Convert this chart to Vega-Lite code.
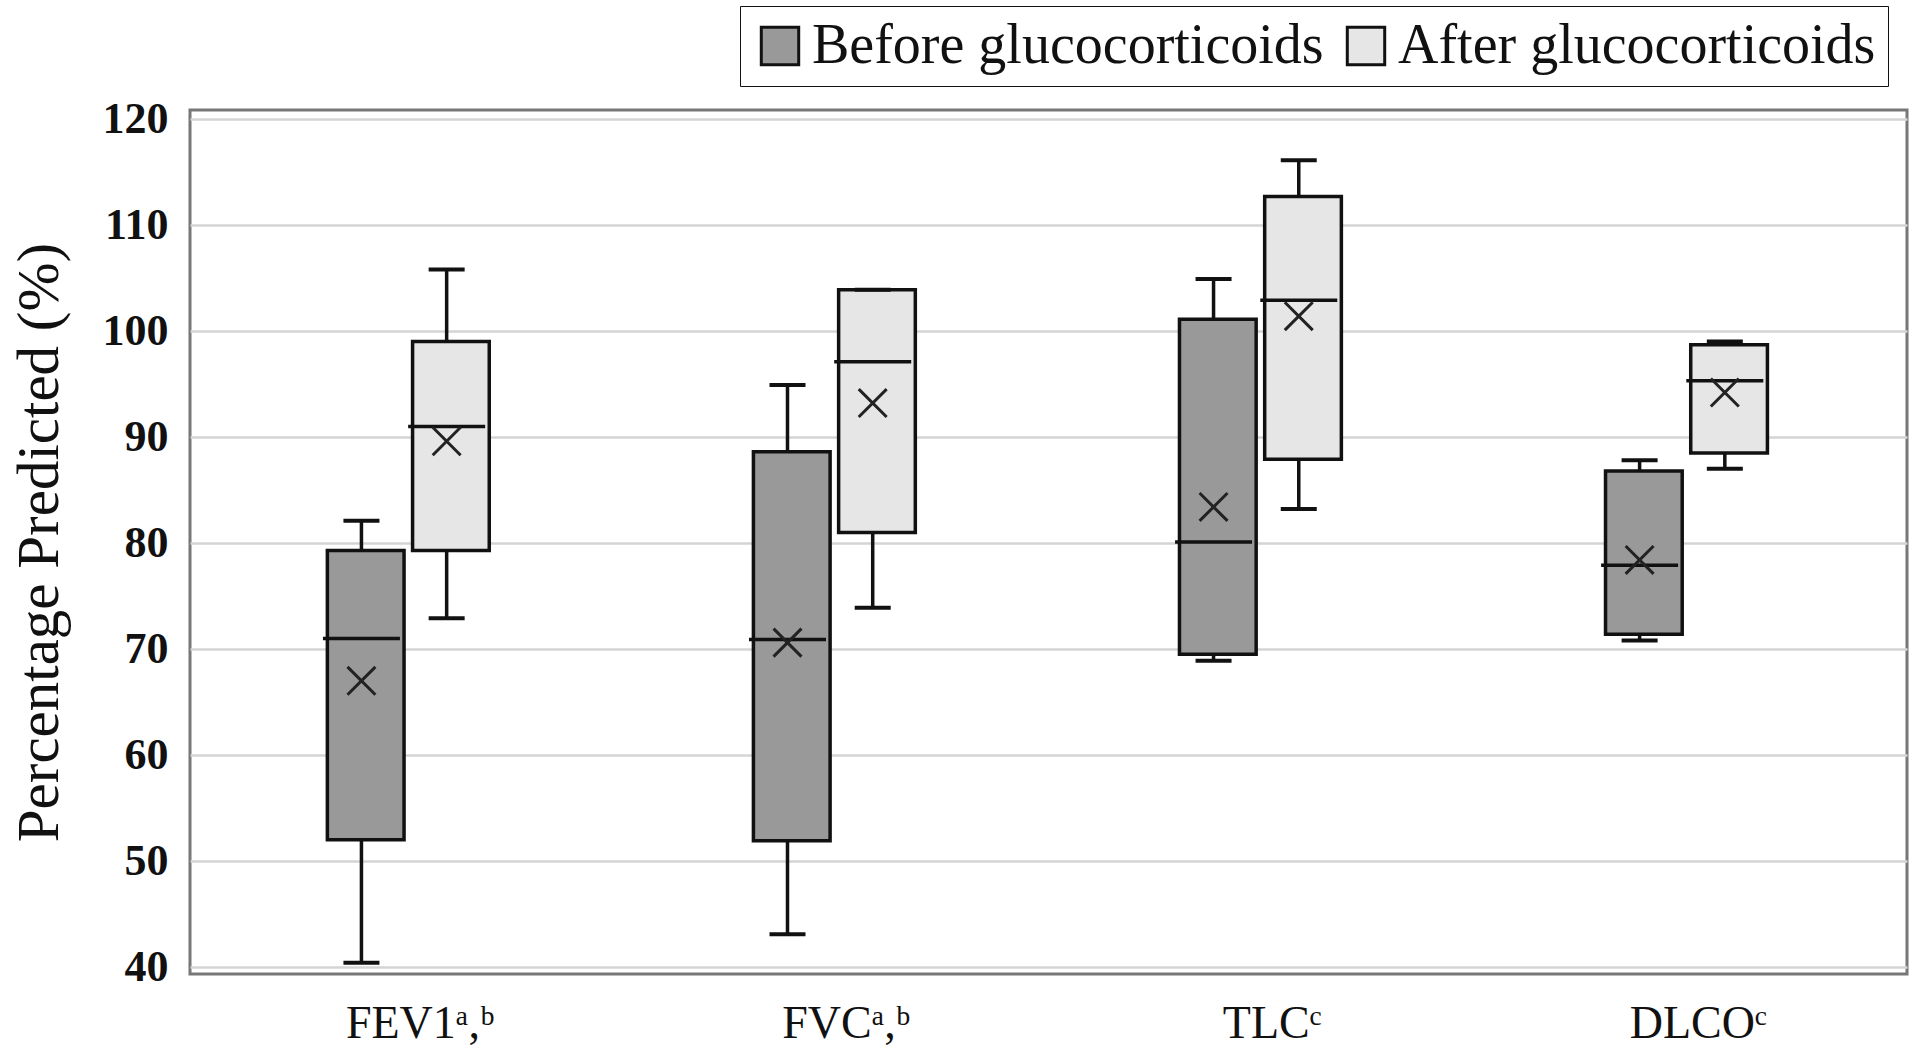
{
  "$schema": "https://vega.github.io/schema/vega-lite/v6.json",
  "autosize": {"type": "fit", "contains": "padding"},
  "width": 1920,
  "height": 1053,
  "padding": {"left": 10, "top": 98, "right": 13, "bottom": 7},
  "background": "white",
  "config": {
    "view": {"stroke": "#777777", "strokeWidth": 3},
    "font": "Liberation Serif"
  },
  "data": {
    "values": [
      {"test": "FEV1ᵃ,ᵇ", "group": "Before glucocorticoids", "min": 40.4, "q1": 52.0, "median": 71.0, "mean": 67.0, "q3": 79.3, "max": 82.1},
      {"test": "FEV1ᵃ,ᵇ", "group": "After glucocorticoids", "min": 72.9, "q1": 79.3, "median": 91.0, "mean": 89.6, "q3": 99.0, "max": 105.8},
      {"test": "FVCᵃ,ᵇ", "group": "Before glucocorticoids", "min": 43.1, "q1": 51.9, "median": 70.9, "mean": 70.6, "q3": 88.6, "max": 94.9},
      {"test": "FVCᵃ,ᵇ", "group": "After glucocorticoids", "min": 73.9, "q1": 81.0, "median": 97.1, "mean": 93.2, "q3": 103.9, "max": 103.9},
      {"test": "TLCᶜ", "group": "Before glucocorticoids", "min": 68.9, "q1": 69.5, "median": 80.1, "mean": 83.4, "q3": 101.1, "max": 104.9},
      {"test": "TLCᶜ", "group": "After glucocorticoids", "min": 83.2, "q1": 87.9, "median": 102.9, "mean": 101.4, "q3": 112.7, "max": 116.1},
      {"test": "DLCOᶜ", "group": "Before glucocorticoids", "min": 70.8, "q1": 71.4, "median": 77.9, "mean": 78.4, "q3": 86.8, "max": 87.8},
      {"test": "DLCOᶜ", "group": "After glucocorticoids", "min": 87.0, "q1": 88.5, "median": 95.3, "mean": 94.2, "q3": 98.7, "max": 99.0}
    ]
  },
  "encoding": {
    "x": {
      "field": "test",
      "type": "nominal",
      "sort": null,
      "scale": {"paddingInner": 0.6, "paddingOuter": 0.315, "align": 0.48},
      "axis": {
        "title": null,
        "labelAngle": 0,
        "labelFont": "Liberation Serif",
        "labelFontSize": 46,
        "labelColor": "#111111",
        "labelPadding": 27,
        "labelOffset": 16,
        "ticks": false,
        "domain": false,
        "grid": false
      }
    },
    "xOffset": {
      "field": "group",
      "type": "nominal",
      "scale": {"domain": ["Before glucocorticoids", "After glucocorticoids"], "paddingInner": 0, "paddingOuter": 0}
    }
  },
  "layer": [
    {
      "mark": {"type": "rule", "stroke": "#111111", "strokeWidth": 3.5},
      "encoding": {
        "y": {
          "field": "min",
          "type": "quantitative",
          "scale": {"domain": [39.34, 120.85], "nice": false, "zero": false},
          "axis": {
            "title": "Percentage Predicted (%)",
            "titleFont": "Liberation Serif",
            "titleFontSize": 59,
            "titleFontWeight": "normal",
            "titleColor": "#111111",
            "titlePadding": 33,
            "values": [40, 50, 60, 70, 80, 90, 100, 110, 120],
            "labelFont": "Liberation Serif",
            "labelFontSize": 44,
            "labelFontWeight": "bold",
            "labelColor": "#111111",
            "labelPadding": 22,
            "ticks": false,
            "domain": false,
            "grid": true,
            "gridColor": "#d4d4d4",
            "gridWidth": 2.5
          }
        },
        "y2": {"field": "max"}
      }
    },
    {
      "mark": {"type": "bar", "stroke": "#111111", "strokeWidth": 3.5, "width": {"band": 0.9}, "opacity": 1},
      "encoding": {
        "y": {"field": "q1", "type": "quantitative"},
        "y2": {"field": "q3"},
        "fill": {
          "field": "group",
          "type": "nominal",
          "scale": {"domain": ["Before glucocorticoids", "After glucocorticoids"], "range": ["#999999", "#e6e6e6"]},
          "legend": {
            "title": null,
            "orient": "none",
            "legendX": 550,
            "legendY": -104,
            "direction": "horizontal",
            "columns": 2,
            "strokeColor": "#111111",
            "fillColor": "white",
            "padding": 12,
            "labelFont": "Liberation Serif",
            "labelFontSize": 56,
            "labelLimit": 0,
            "labelColor": "#111111",
            "labelOffset": 4,
            "columnPadding": 14,
            "symbolType": "square",
            "symbolSize": 1400,
            "symbolStrokeColor": "#111111",
            "symbolStrokeWidth": 3,
            "symbolOpacity": 1
          }
        }
      }
    },
    {
      "mark": {"type": "tick", "color": "#111111", "opacity": 1, "thickness": 3.5, "size": 77},
      "encoding": {"y": {"field": "median", "type": "quantitative"}}
    },
    {
      "mark": {"type": "tick", "color": "#111111", "opacity": 1, "thickness": 4, "size": 36},
      "encoding": {"y": {"field": "min", "type": "quantitative"}}
    },
    {
      "mark": {"type": "tick", "color": "#111111", "opacity": 1, "thickness": 4, "size": 36},
      "encoding": {"y": {"field": "max", "type": "quantitative"}}
    },
    {
      "mark": {"type": "point", "shape": "M-1,-1L1,1M1,-1L-1,1", "filled": false, "stroke": "#222222", "strokeWidth": 3, "size": 780, "opacity": 1},
      "encoding": {"y": {"field": "mean", "type": "quantitative"}}
    }
  ]
}
